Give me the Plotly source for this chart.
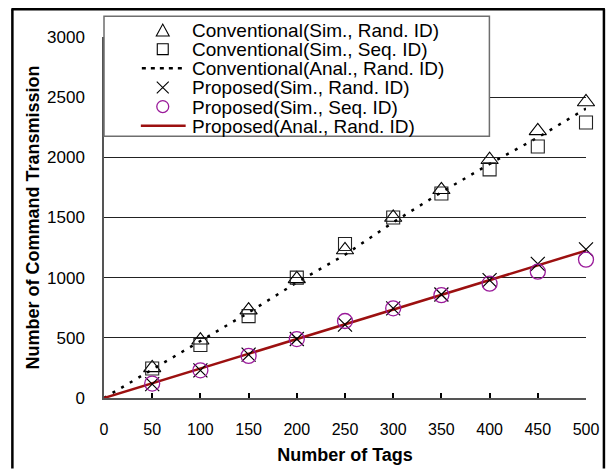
import plotly.graph_objects as go

# ---------------- data ----------------
tags = [0, 50, 100, 150, 200, 250, 300, 350, 400, 450, 500]
sim_tags = [50, 100, 150, 200, 250, 300, 350, 400, 450, 500]

conv_sim_rand = [250, 480, 730, 990, 1230, 1500, 1730, 1980, 2220, 2460]
conv_sim_seq = [245, 440, 680, 1000, 1280, 1500, 1700, 1900, 2090, 2290]
conv_anal_rand = [0, 235, 470, 710, 960, 1190, 1460, 1710, 1945, 2165, 2405]
prop_sim_rand = [115, 230, 360, 490, 610, 745, 860, 980, 1115, 1235]
prop_sim_seq = [120, 230, 350, 490, 640, 745, 855, 950, 1050, 1150]
prop_anal_rand = [0, 122, 245, 367, 490, 612, 735, 857, 980, 1102, 1225]

series_names = [
    "Conventional(Sim., Rand. ID)",
    "Conventional(Sim., Seq. ID)",
    "Conventional(Anal., Rand. ID)",
    "Proposed(Sim., Rand. ID)",
    "Proposed(Sim., Seq. ID)",
    "Proposed(Anal., Rand. ID)",
]
x_ticks = [0, 50, 100, 150, 200, 250, 300, 350, 400, 450, 500]
y_ticks = [0, 500, 1000, 1500, 2000, 2500, 3000]

# ---------------- layout constants ----------------
W, H = 611, 474
L, R, T, B = 104, 23, 37, 73
FONT = "Liberation Sans, Arial, sans-serif"
RED = "#9c1010"
PURPLE = "#9a1a9a"


def px(x):
    return (x - L) / (W - L - R)


def py(y):
    return (H - B - y) / (H - T - B)


fig = go.Figure()

fig.add_trace(go.Scatter(x=tags, y=conv_anal_rand, mode="lines", name=series_names[2],
                         line=dict(color="black", width=2.5, dash="3px,7px"),
                         showlegend=False, cliponaxis=False))
fig.add_trace(go.Scatter(x=tags, y=prop_anal_rand, mode="lines", name=series_names[5],
                         line=dict(color=RED, width=2.5),
                         showlegend=False, cliponaxis=False))
fig.add_trace(go.Scatter(x=sim_tags, y=conv_sim_rand, mode="markers", name=series_names[0],
                         marker=dict(symbol="triangle-up-open", size=15,
                                     color="black", line=dict(width=1.1)),
                         showlegend=False, cliponaxis=False))
fig.add_trace(go.Scatter(x=sim_tags, y=conv_sim_seq, mode="markers", name=series_names[1],
                         marker=dict(symbol="square-open", size=13,
                                     color="#222", line=dict(width=1.1)),
                         showlegend=False, cliponaxis=False))
fig.add_trace(go.Scatter(x=sim_tags, y=prop_sim_rand, mode="markers", name=series_names[3],
                         marker=dict(symbol="x-thin-open", size=14,
                                     color="black", line=dict(width=1.2, color="black")),
                         showlegend=False, cliponaxis=False))
fig.add_trace(go.Scatter(x=sim_tags, y=prop_sim_seq, mode="markers", name=series_names[4],
                         marker=dict(symbol="circle-open", size=15,
                                     color=PURPLE, line=dict(width=1.3)),
                         showlegend=False, cliponaxis=False))

shapes = []
# outer frame (left, top, right edges)
for (xa, ya, xb, yb) in [(12, 9, 12, 472), (11, 9, 607, 9), (606, 9, 606, 472)]:
    shapes.append(dict(type="line", xref="paper", yref="paper",
                       x0=px(xa), y0=py(ya), x1=px(xb), y1=py(yb),
                       line=dict(color="black", width=2.5), layer="above"))
# legend box
shapes.append(dict(type="rect", xref="paper", yref="paper",
                   x0=px(104), x1=px(491), y0=py(137), y1=py(16),
                   line=dict(color="#6e6e6e", width=1.5), fillcolor="white",
                   layer="above"))

row_y = [30, 49.3, 68.6, 87.9, 107.2, 126.5]
sx = 163
# triangle
y0 = row_y[0]
shapes.append(dict(type="path", xref="paper", yref="paper",
                   path=f"M {px(sx-6.5)},{py(y0+6)} L {px(sx+6.5)},{py(y0+6)} L {px(sx)},{py(y0-6)} Z",
                   line=dict(color="black", width=1.1), layer="above"))
# square
y0 = row_y[1]
shapes.append(dict(type="rect", xref="paper", yref="paper",
                   x0=px(sx-5.5), x1=px(sx+5.5), y0=py(y0+5.5), y1=py(y0-5.5),
                   line=dict(color="black", width=1.1), layer="above"))
# dotted line
y0 = row_y[2]
shapes.append(dict(type="line", xref="paper", yref="paper",
                   x0=px(142), x1=px(186), y0=py(y0), y1=py(y0),
                   line=dict(color="black", width=2.5, dash="4px,5px"), layer="above"))
# cross
y0 = row_y[3]
shapes.append(dict(type="path", xref="paper", yref="paper",
                   path=(f"M {px(sx-6)},{py(y0-6)} L {px(sx+6)},{py(y0+6)} "
                         f"M {px(sx-6)},{py(y0+6)} L {px(sx+6)},{py(y0-6)}"),
                   line=dict(color="black", width=1.1), layer="above"))
# circle
y0 = row_y[4]
shapes.append(dict(type="circle", xref="paper", yref="paper",
                   x0=px(sx-6), x1=px(sx+6), y0=py(y0+6), y1=py(y0-6),
                   line=dict(color=PURPLE, width=1.3), layer="above"))
# solid line
y0 = row_y[5]
shapes.append(dict(type="line", xref="paper", yref="paper",
                   x0=px(141), x1=px(186), y0=py(y0), y1=py(y0),
                   line=dict(color=RED, width=2.5), layer="above"))

annotations = []
for name, yy in zip(series_names, row_y):
    annotations.append(dict(text=name, xref="paper", yref="paper",
                            x=px(190), y=py(yy + 0.5), xanchor="left", yanchor="middle",
                            showarrow=False, font=dict(family=FONT, size=19, color="black")))

fig.update_layout(
    width=W, height=H,
    margin=dict(l=L, r=R, t=T, b=B),
    paper_bgcolor="white", plot_bgcolor="white",
    font=dict(family=FONT, color="black"),
    showlegend=False,
    shapes=shapes,
    annotations=annotations,
    xaxis=dict(range=[0, 500], tickvals=x_ticks, ticktext=[str(v) for v in x_ticks],
               ticks="inside", ticklen=5, tickwidth=1.5, tickcolor="black",
               showline=True, linecolor="#555", linewidth=1.5,
               showgrid=False, zeroline=False,
               tickfont=dict(size=16, family=FONT),
               ticklabelstandoff=16,
               title=dict(text="<b>Number of Tags</b>", font=dict(size=18, family=FONT),
                          standoff=11)),
    yaxis=dict(range=[0, 3000], tickvals=y_ticks, ticktext=[str(v) for v in y_ticks],
               ticks="", showline=True, linecolor="#555", linewidth=1.5,
               showgrid=True, gridcolor="#222", gridwidth=1,
               zeroline=False,
               tickfont=dict(size=17, family=FONT),
               ticklabelstandoff=14,
               title=dict(text="<b>Number of Command Transmission</b>",
                          font=dict(size=18, family=FONT), standoff=3)),
)

fig.write_html("out.html", config={"displayModeBar": False},
               post_script="document.body.style.margin='0';document.body.style.overflow='hidden';")
